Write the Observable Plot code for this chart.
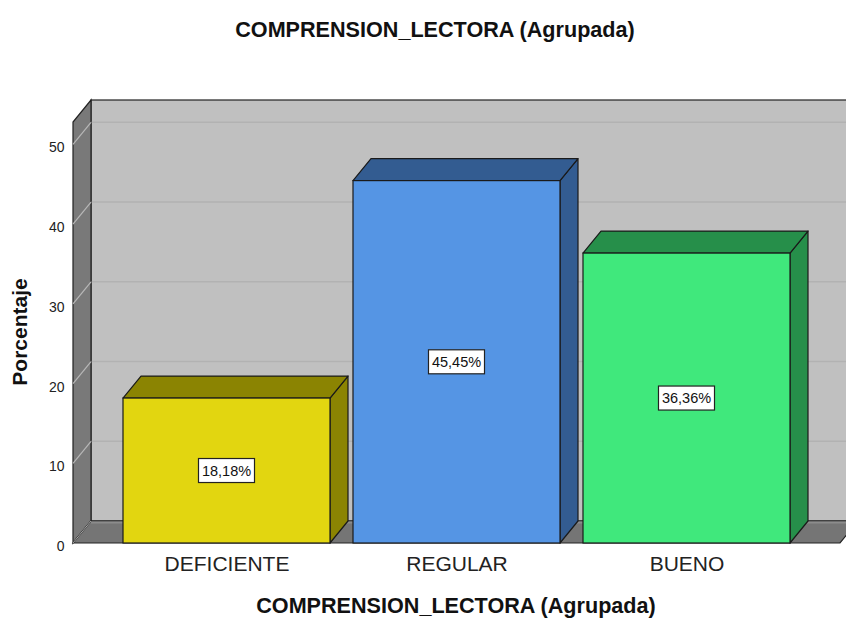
<!DOCTYPE html>
<html>
<head>
<meta charset="utf-8">
<script src="https://cdn.jsdelivr.net/npm/d3@7"></script>
<script src="https://cdn.jsdelivr.net/npm/@observablehq/plot@0.6"></script>
<style>
  html, body { margin: 0; padding: 0; background: #fff; }
  #wrap { position: relative; width: 846px; height: 619px; overflow: hidden; font-family: "Liberation Sans", Arial, sans-serif; }
  #chart { position: absolute; left: 0; top: 0; }
  .lbl { position: absolute; white-space: nowrap; color: #111; font-weight: bold; font-size: 21.6px; line-height: 22px; transform: translate(-50%, -50%); }
</style>
</head>
<body>
<div id="wrap">
  <div id="chart"></div>
  <div class="lbl" style="left:435px; top:30px;">COMPRENSION_LECTORA (Agrupada)</div>
  <div class="lbl" style="left:456px; top:606px;">COMPRENSION_LECTORA (Agrupada)</div>
  <div class="lbl" style="left:20px; top:332px; font-size:21px; transform: translate(-50%, -50%) rotate(-90deg);">Porcentaje</div>
</div>
<script>
// ---- data ----
const categories = ["DEFICIENTE", "REGULAR", "BUENO"];
const percents = [18.18, 45.45, 36.36];
const valueLabels = ["18,18%", "45,45%", "36,36%"];
const frontColors = ["#e2d610", "#5595e4", "#40e87c"];
const shadeColors = ["#8b8402", "#335c91", "#268f4a"];
const yTicks = [0, 10, 20, 30, 40, 50];
const yMax = 52.8;

const data = categories.map((c, i) => ({cat: c, value: percents[i], label: valueLabels[i], front: frontColors[i], shade: shadeColors[i]}));

// depth of the 3D effect (pixels)
const DX = 18, DY = 22;

function wallsMark() {
  return Plot.frame({
    render(index, scales, values, dims) {
      const y = scales.y;
      const xl = dims.marginLeft, xr = dims.width - dims.marginRight;
      const yb = y(0), yt = y(yMax);
      const g = d3.create("svg:g");
      // back wall
      g.append("rect").attr("x", xl + DX).attr("y", yt - DY)
        .attr("width", xr - xl).attr("height", yb - yt)
        .attr("fill", "#c0c0c0").attr("stroke", "#222").attr("stroke-width", 1.2);
      // back wall gridlines
      for (const t of yTicks) {
        if (t === 0) continue;
        g.append("line").attr("x1", xl + DX).attr("x2", xr + DX)
          .attr("y1", y(t) - DY).attr("y2", y(t) - DY)
          .attr("stroke", "#b2b2b2").attr("stroke-width", 1.5);
      }
      // left wall
      g.append("polygon")
        .attr("points", [[xl, yb], [xl, yt], [xl + DX, yt - DY], [xl + DX, yb - DY]].map(p => p.join(",")).join(" "))
        .attr("fill", "#797979").attr("stroke", "#222").attr("stroke-width", 1.2);
      for (const t of yTicks) {
        if (t === 0) continue;
        g.append("line").attr("x1", xl).attr("x2", xl + DX)
          .attr("y1", y(t)).attr("y2", y(t) - DY)
          .attr("stroke", "#b8b8b8").attr("stroke-width", 1.2);
      }
      // floor
      g.append("polygon")
        .attr("points", [[xl, yb], [xr, yb], [xr + DX, yb - DY], [xl + DX, yb - DY]].map(p => p.join(",")).join(" "))
        .attr("fill", "#757575").attr("stroke", "#222").attr("stroke-width", 1.2);
      g.append("line").attr("x1", xl + DX).attr("x2", xr + DX)
        .attr("y1", yb - DY + 1.5).attr("y2", yb - DY + 1.5)
        .attr("stroke", "#8c8c8c").attr("stroke-width", 2);
      g.append("line").attr("x1", xl).attr("x2", xl + DX)
        .attr("y1", yb).attr("y2", yb - DY)
        .attr("stroke", "#a8a8a8").attr("stroke-width", 1);
      return g.node();
    }
  });
}

function barsMark() {
  return Plot.barY(data, {
    x: "cat", y: "value",
    render(index, scales, values, dims) {
      const x = scales.x, y = scales.y;
      const bw = x.bandwidth();
      const yB = y(0);
      const g = d3.create("svg:g");
      for (const i of index) {
        const d = data[i];
        const x0 = x(d.cat), x1 = x0 + bw, yT = y(d.value);
        const pts = a => a.map(p => p.join(",")).join(" ");
        // side face
        g.append("polygon").attr("points", pts([[x1, yB], [x1, yT], [x1 + DX, yT - DY], [x1 + DX, yB - DY]]))
          .attr("fill", d.shade).attr("stroke", "#1a1a1a").attr("stroke-width", 1.2).attr("stroke-linejoin", "round");
        // top face
        g.append("polygon").attr("points", pts([[x0, yT], [x1, yT], [x1 + DX, yT - DY], [x0 + DX, yT - DY]]))
          .attr("fill", d.shade).attr("stroke", "#1a1a1a").attr("stroke-width", 1.2).attr("stroke-linejoin", "round");
        // front face
        g.append("rect").attr("x", x0).attr("y", yT).attr("width", bw).attr("height", yB - yT)
          .attr("fill", d.front).attr("stroke", "#1a1a1a").attr("stroke-width", 1.2);
        // value label
        const cx = x0 + bw / 2, cy = (yT + yB) / 2;
        g.append("rect").attr("x", cx - 28).attr("y", cy - 12).attr("width", 56).attr("height", 24)
          .attr("fill", "#fff").attr("stroke", "#222").attr("stroke-width", 1.2);
        g.append("text").attr("x", cx).attr("y", cy).attr("dy", "0.36em")
          .attr("text-anchor", "middle").attr("font-size", 14.5).attr("fill", "#111")
          .text(d.label);
      }
      return g.node();
    }
  });
}

const chart = Plot.plot({
  width: 846,
  height: 619,
  marginLeft: 73,
  marginRight: 6,
  marginTop: 122,
  marginBottom: 76,
  style: {fontFamily: "'Liberation Sans', Arial, sans-serif", background: "transparent", overflow: "visible"},
  x: {type: "band", domain: categories, paddingInner: 0.1, paddingOuter: 0.217, label: null},
  y: {domain: [0, yMax], label: null},
  marks: [
    wallsMark(),
    Plot.axisY({ticks: yTicks, tickSize: 0, tickPadding: 9, fontSize: 14, dy: 3, label: null, fill: "#222"}),
    Plot.axisX({tickSize: 0, tickPadding: 13, fontSize: 21, label: null, fill: "#222"}),
    barsMark()
  ]
});
document.getElementById("chart").appendChild(chart);
</script>
</body>
</html>
